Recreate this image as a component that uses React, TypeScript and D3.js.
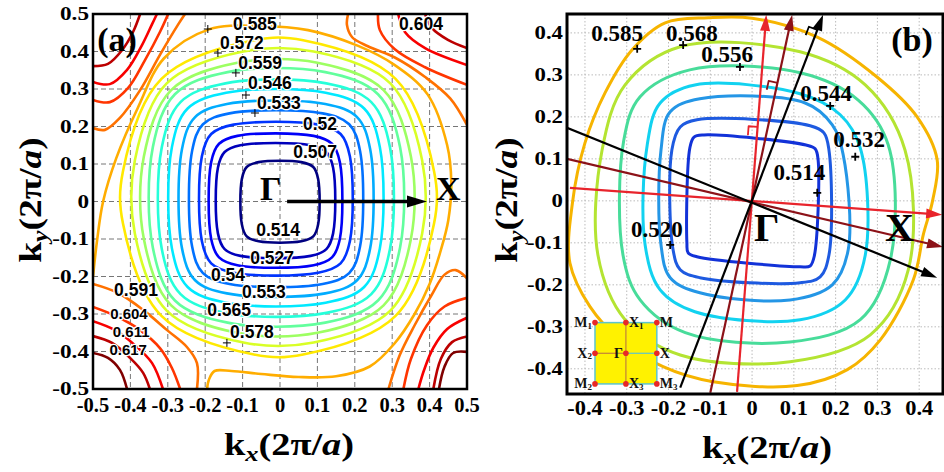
import React from 'react';
import * as d3 from 'd3';

type P = [number, number];

// ---------------- Panel (a) data ----------------
const levelsA = [0.507, 0.5135, 0.52, 0.5265, 0.533, 0.5395, 0.546, 0.5525, 0.559, 0.5655, 0.572, 0.5785, 0.585, 0.5915, 0.598, 0.6045, 0.611, 0.6175];

// closed contours (levels 0.507 ... 0.5785): anchor points [kx, ky]
const closedA: P[][] = [
  [[0.102, 0.06], [0.089, 0.092], [0.057, 0.105], [-0.057, 0.105], [-0.089, 0.092], [-0.102, 0.06], [-0.102, -0.061], [-0.089, -0.093], [-0.057, -0.106], [0.057, -0.106], [0.089, -0.093], [0.102, -0.061]],
  [[0.142, 0.09], [0.124, 0.132], [0.082, 0.15], [-0.106, 0.15], [-0.148, 0.132], [-0.166, 0.09], [-0.166, -0.085], [-0.148, -0.127], [-0.106, -0.145], [0.082, -0.145], [0.124, -0.127], [0.142, -0.085]],
  [[0.16, 0.105], [0.139, 0.154], [0.09, 0.175], [-0.114, 0.175], [-0.163, 0.154], [-0.184, 0.105], [-0.184, -0.1], [-0.163, -0.149], [-0.114, -0.17], [0.09, -0.17], [0.139, -0.149], [0.16, -0.1]],
  [[0.187, 0.12], [0.162, 0.18], [0.102, 0.205], [-0.124, 0.205], [-0.184, 0.18], [-0.209, 0.12], [-0.209, -0.105], [-0.184, -0.165], [-0.124, -0.19], [0.102, -0.19], [0.162, -0.165], [0.187, -0.105]],
  [[0.214, 0.135], [0.185, 0.206], [0.114, 0.235], [-0.135, 0.235], [-0.206, 0.206], [-0.235, 0.135], [-0.235, -0.12], [-0.206, -0.191], [-0.135, -0.22], [0.114, -0.22], [0.185, -0.191], [0.214, -0.12]],
  [[0.241, 0.14], [0.206, 0.225], [0.121, 0.26], [-0.142, 0.26], [-0.227, 0.225], [-0.262, 0.14], [-0.262, -0.125], [-0.227, -0.21], [-0.142, -0.245], [0.121, -0.245], [0.206, -0.21], [0.241, -0.125]],
  [[0.267, 0.145], [0.225, 0.248], [0.122, 0.29], [-0.144, 0.29], [-0.247, 0.248], [-0.289, 0.145], [-0.289, -0.125], [-0.247, -0.228], [-0.144, -0.27], [0.122, -0.27], [0.225, -0.228], [0.267, -0.125]],
  [[0.294, 0.145], [0.244, 0.265], [0.124, 0.315], [-0.146, 0.315], [-0.266, 0.265], [-0.316, 0.145], [-0.316, -0.127], [-0.266, -0.247], [-0.146, -0.297], [0.124, -0.297], [0.244, -0.247], [0.294, -0.127]],
  [[0.321, 0.145], [0.262, 0.286], [0.121, 0.345], [-0.14, 0.345], [-0.281, 0.286], [-0.34, 0.145], [-0.34, -0.123], [-0.281, -0.264], [-0.14, -0.323], [0.121, -0.323], [0.262, -0.264], [0.321, -0.123]],
  [[0.35, 0.12], [0.277, 0.297], [0.1, 0.37], [-0.114, 0.37], [-0.291, 0.297], [-0.364, 0.12], [-0.364, -0.1], [-0.291, -0.277], [-0.114, -0.35], [0.1, -0.35], [0.277, -0.277], [0.35, -0.1]],
  [[0.38, 0.11], [0.295, 0.315], [0.09, 0.4], [-0.098, 0.4], [-0.303, 0.315], [-0.388, 0.11], [-0.388, -0.086], [-0.303, -0.291], [-0.098, -0.376], [0.09, -0.376], [0.295, -0.291], [0.38, -0.086]],
  [[0.412, 0.08], [0.309, 0.327], [0.062, 0.43], [-0.07, 0.43], [-0.317, 0.327], [-0.42, 0.08], [-0.42, -0.058], [-0.317, -0.305], [-0.07, -0.408], [0.062, -0.408], [0.309, -0.305], [0.412, -0.058]],
];

// the 0.585 contour leaves the plot in the lower-left corner
const open585A: P[] = [
  [-0.5, -0.2], [-0.489, -0.103], [-0.473, 0], [-0.438, 0.115], [-0.38, 0.25], [-0.31, 0.382], [-0.19, 0.459],
  [-0.05, 0.468], [0.075, 0.457], [0.209, 0.415], [0.305, 0.365], [0.395, 0.285], [0.447, 0.15], [0.458, 0.05],
  [0.45, -0.05], [0.43, -0.13], [0.4, -0.22], [0.36, -0.3], [0.305, -0.38], [0.24, -0.44], [0.15, -0.466],
  [0.05, -0.468], [-0.05, -0.46], [-0.13, -0.452], [-0.175, -0.452], [-0.19, -0.475], [-0.195, -0.5],
];

const cornerArcsA: { level: number; pts: P[] }[] = [
  // upper left
  { level: 0.5915, pts: [[-0.5, 0.196], [-0.468, 0.191], [-0.428, 0.223], [-0.374, 0.297], [-0.321, 0.391], [-0.273, 0.471], [-0.254, 0.5]] },
  { level: 0.598, pts: [[-0.5, 0.271], [-0.455, 0.265], [-0.406, 0.303], [-0.361, 0.377], [-0.321, 0.452], [-0.299, 0.5]] },
  { level: 0.6045, pts: [[-0.5, 0.319], [-0.455, 0.313], [-0.409, 0.351], [-0.369, 0.417], [-0.342, 0.473], [-0.329, 0.5]] },
  { level: 0.611, pts: [[-0.5, 0.361], [-0.46, 0.367], [-0.422, 0.404], [-0.393, 0.452], [-0.374, 0.5]] },
  // upper right
  { level: 0.5915, pts: [[0.182, 0.5], [0.179, 0.471], [0.193, 0.438], [0.235, 0.414], [0.307, 0.384], [0.388, 0.332], [0.455, 0.275], [0.5, 0.204]] },
  { level: 0.598, pts: [[0.262, 0.5], [0.267, 0.457], [0.307, 0.406], [0.388, 0.358], [0.5, 0.311]] },
  { level: 0.6045, pts: [[0.316, 0.5], [0.334, 0.452], [0.388, 0.409], [0.5, 0.364]] },
  { level: 0.611, pts: [[0.388, 0.5], [0.406, 0.463], [0.449, 0.431], [0.5, 0.409]] },
  // lower right
  { level: 0.5915, pts: [[0.5, -0.205], [0.47, -0.183], [0.44, -0.195], [0.405, -0.25], [0.36, -0.33], [0.32, -0.41], [0.29, -0.5]] },
  { level: 0.598, pts: [[0.5, -0.257], [0.44, -0.28], [0.393, -0.33], [0.35, -0.42], [0.33, -0.5]] },
  { level: 0.6045, pts: [[0.5, -0.31], [0.447, -0.34], [0.41, -0.39], [0.385, -0.45], [0.37, -0.5]] },
  { level: 0.611, pts: [[0.5, -0.36], [0.46, -0.375], [0.43, -0.42], [0.41, -0.5]] },
  { level: 0.6175, pts: [[0.5, -0.401], [0.463, -0.404], [0.44, -0.44], [0.425, -0.5]] },
  // lower left
  { level: 0.5915, pts: [[-0.5, -0.22], [-0.433, -0.244], [-0.366, -0.289], [-0.302, -0.343], [-0.249, -0.388], [-0.222, -0.431], [-0.222, -0.5]] },
  { level: 0.598, pts: [[-0.5, -0.281], [-0.433, -0.308], [-0.374, -0.343], [-0.321, -0.391], [-0.289, -0.444], [-0.267, -0.5]] },
  { level: 0.6045, pts: [[-0.5, -0.319], [-0.441, -0.343], [-0.388, -0.383], [-0.342, -0.431], [-0.313, -0.5]] },
  { level: 0.611, pts: [[-0.5, -0.359], [-0.449, -0.377], [-0.401, -0.417], [-0.366, -0.457], [-0.348, -0.5]] },
  { level: 0.6175, pts: [[-0.5, -0.404], [-0.46, -0.417], [-0.428, -0.449], [-0.409, -0.5]] },
];

const labelTextA = ['0.585', '0.572', '0.559', '0.546', '0.533', '0.52', '0.507', '0.514', '0.527', '0.54', '0.553', '0.565', '0.578', '0.591', '0.604', '0.611', '0.617', '0.604'];
const labelPosA: P[] = [
  [-0.067, 0.473], [-0.102, 0.423], [-0.053, 0.369], [-0.027, 0.316], [-0.003, 0.263], [0.107, 0.207], [0.094, 0.132],
  [-0.005, -0.076], [-0.021, -0.151], [-0.139, -0.196], [-0.043, -0.241], [-0.136, -0.289], [-0.075, -0.348],
  [-0.385, -0.237], [-0.404, -0.298], [-0.398, -0.347], [-0.406, -0.395], [0.377, 0.473],
];
const plusA: P[] = [[-0.193, 0.46], [-0.166, 0.396], [-0.118, 0.343], [-0.091, 0.284], [-0.067, 0.236], [-0.142, -0.377]];
const ticksA = [-0.5, -0.4, -0.3, -0.2, -0.1, 0, 0.1, 0.2, 0.3, 0.4, 0.5];
const arrowA: P[] = [[0.019, 0], [0.393, 0]];

// ---------------- Panel (b) data ----------------
const levelsB = [0.514, 0.52, 0.532, 0.544, 0.556, 0.568, 0.585];
const colorsB = ['#1232d8', '#1e5ae0', '#2496e6', '#12d2f0', '#48dc9a', '#b4e432', '#f6b400'];
const contoursB: P[][] = [
  [[-0.149, 0.126], [-0.139, 0.152], [-0.115, 0.157], [0.129, 0.133], [0.151, 0.124], [0.158, 0.098], [0.149, -0.131], [0.139, -0.155], [0.115, -0.157], [-0.132, -0.133], [-0.153, -0.124], [-0.156, -0.1]],
  [[-0.192, 0.121], [-0.172, 0.176], [-0.132, 0.193], [0.139, 0.179], [0.172, 0.162], [0.184, 0.121], [0.184, -0.129], [0.163, -0.181], [0.115, -0.195], [-0.125, -0.183], [-0.172, -0.164], [-0.189, -0.117]],
  [[-0.218, 0.121], [-0.196, 0.212], [-0.125, 0.243], [0.127, 0.233], [0.192, 0.181], [0.218, 0.11], [0.23, -0.117], [0.192, -0.2], [0.091, -0.236], [-0.125, -0.219], [-0.196, -0.183], [-0.218, -0.105]],
  [[-0.251, 0.133], [-0.22, 0.233], [-0.137, 0.276], [0.115, 0.255], [0.211, 0.205], [0.259, 0.126], [0.271, -0.129], [0.223, -0.236], [0.115, -0.283], [-0.137, -0.264], [-0.22, -0.212], [-0.256, -0.105]],
  [[-0.307, 0.145], [-0.268, 0.248], [-0.149, 0.312], [0.115, 0.305], [0.254, 0.24], [0.326, 0.133], [0.331, -0.14], [0.259, -0.283], [0.091, -0.336], [-0.16, -0.314], [-0.268, -0.236], [-0.309, -0.129]],
  [[-0.359, 0.121], [-0.304, 0.276], [-0.172, 0.367], [0.115, 0.355], [0.271, 0.276], [0.366, 0.121], [0.374, -0.164], [0.283, -0.319], [0.091, -0.383], [-0.172, -0.367], [-0.304, -0.283], [-0.369, -0.129]],
  [[-0.105, 0.436], [0.0, 0.435], [0.156, 0.39], [0.299, 0.295], [0.395, 0.2], [0.443, 0.098], [0.432, 0.0], [0.41, -0.08], [0.386, -0.188], [0.307, -0.331], [0.228, -0.402], [0.108, -0.44], [-0.093, -0.431], [-0.213, -0.395], [-0.316, -0.331], [-0.388, -0.252], [-0.436, -0.148], [-0.43, -0.005], [-0.4, 0.138], [-0.352, 0.257], [-0.287, 0.36], [-0.208, 0.424]],
];
const labelTextB = ['0.585', '0.568', '0.556', '0.544', '0.532', '0.514', '0.520'];
const labelPosB: P[] = [[-0.323, 0.398], [-0.144, 0.398], [-0.06, 0.348], [0.177, 0.255], [0.256, 0.145], [0.113, 0.067], [-0.228, -0.069]];
const plusB: P[] = [[-0.275, 0.362], [-0.165, 0.371], [-0.029, 0.319], [0.187, 0.226], [0.247, 0.105], [0.156, 0.019], [-0.196, -0.105]];
const ticksB = [-0.4, -0.3, -0.2, -0.1, 0, 0.1, 0.2, 0.3, 0.4];
const dirLinesB: { color: string; from: P; to: P; mark: number | null }[] = [
  { color: '#e8242c', from: [-0.436, 0.031], to: [0.455, -0.033], mark: null },
  { color: '#e8242c', from: [-0.036, -0.455], to: [0.034, 0.443], mark: 0.176 },
  { color: '#8c1218', from: [-0.443, 0.1], to: [0.457, -0.11], mark: null },
  { color: '#8c1218', from: [-0.1, -0.457], to: [0.096, 0.443], mark: 0.281 },
  { color: '#000000', from: [-0.443, 0.174], to: [0.443, -0.183], mark: null },
  { color: '#000000', from: [-0.172, -0.445], to: [0.17, 0.443], mark: 0.407 },
];
const insetBox = { x0: -0.376, x1: -0.228, y0: -0.436, y1: -0.29 };
const insetNames = ['M', 'X', 'M', 'X', 'Γ', 'X', 'M', 'X', 'M'];
const insetSubs = ['1', '1', '', '2', '', '', '2', '3', '3'];

// ---------------- helpers ----------------
function jet(t: number) {
  const c = (v: number) => Math.max(0, Math.min(1, v));
  const r = c(Math.min(4 * t - 1.5, -4 * t + 4.5));
  const g = c(Math.min(4 * t - 0.5, -4 * t + 3.5));
  const b = c(Math.min(4 * t + 0.5, -4 * t + 2.5));
  return d3.rgb(r * 255, g * 255, b * 255).formatHex();
}
const lvMin = levelsA[0];
const lvMax = levelsA[levelsA.length - 1];
const colorA = (v: number) => jet((v - lvMin) / (lvMax - lvMin));

const serif = "'Liberation Serif','Times New Roman',Times,serif";
const sans = "'Liberation Sans',Arial,Helvetica,sans-serif";
const fmt = (v: number) => (Math.abs(v) < 1e-9 ? '0' : v.toFixed(1));

function arrowHead(x1: number, y1: number, x2: number, y2: number, len = 17, hw = 5.5) {
  const a = Math.atan2(y2 - y1, x2 - x1);
  const bx = x2 - len * Math.cos(a), by = y2 - len * Math.sin(a);
  const px = -Math.sin(a) * hw, py = Math.cos(a) * hw;
  return `M${x2},${y2}L${bx + px},${by + py}L${bx - px},${by - py}Z`;
}

export default function App() {
  const Ax = d3.scaleLinear().domain([-0.5, 0.5]).range([93, 467]);
  const Ay = d3.scaleLinear().domain([-0.5, 0.5]).range([389, 14]);
  const Bx = d3.scaleLinear().domain([-0.443, 0.457]).range([567, 943]);
  const By = d3.scaleLinear().domain([-0.46, 0.445]).range([394, 14]);

  const closedLineA = d3.line<P>().x(d => Ax(d[0])).y(d => Ay(d[1])).curve(d3.curveCatmullRomClosed.alpha(0.5));
  const openLineA = d3.line<P>().x(d => Ax(d[0])).y(d => Ay(d[1])).curve(d3.curveCatmullRom.alpha(0.5));
  const closedLineB = d3.line<P>().x(d => Bx(d[0])).y(d => By(d[1])).curve(d3.curveCatmullRomClosed.alpha(0.5));

  const [ax0, ax1] = Ax.range();
  const [ay0, ay1] = [Ay.range()[1], Ay.range()[0]];
  const [bx0, bx1] = Bx.range();
  const [by0, by1] = [By.range()[1], By.range()[0]];

  const plusPath = (x: number, y: number) => `M${x - 4},${y}H${x + 4}M${x},${y - 4}V${y + 4}`;

  // inset geometry
  const ix0 = Bx(insetBox.x0), ix1 = Bx(insetBox.x1), iy0 = By(insetBox.y1), iy1 = By(insetBox.y0);
  const imx = (ix0 + ix1) / 2, imy = (iy0 + iy1) / 2;
  const insetPts: P[] = [[ix0, iy0], [imx, iy0], [ix1, iy0], [ix0, imy], [imx, imy], [ix1, imy], [ix0, iy1], [imx, iy1], [ix1, iy1]];

  return (
    <svg width={944} height={472} style={{ position: 'absolute', left: 0, top: 0, background: '#fff' }} xmlns="http://www.w3.org/2000/svg">
      <defs>
        <clipPath id="clipA"><rect x={ax0} y={ay0} width={ax1 - ax0} height={ay1 - ay0} /></clipPath>
        <clipPath id="clipB"><rect x={bx0} y={by0} width={bx1 - bx0} height={by1 - by0} /></clipPath>
      </defs>
      <rect x={0} y={0} width={944} height={472} fill="#fff" />

      {/* ================= Panel (a) ================= */}
      <g>
        {ticksA.slice(1, -1).map(t => (
          <g key={'ga' + t}>
            <line x1={Ax(t)} x2={Ax(t)} y1={ay0} y2={ay1} stroke="#666" strokeWidth={0.9} strokeDasharray="5,3" />
            <line x1={ax0} x2={ax1} y1={Ay(t)} y2={Ay(t)} stroke="#666" strokeWidth={0.9} strokeDasharray="5,3" />
          </g>
        ))}
        <g clipPath="url(#clipA)" fill="none" strokeWidth={2.6} strokeLinejoin="round">
          {closedA.map((pts, i) => (
            <path key={'ca' + i} d={closedLineA(pts) || ''} stroke={colorA(levelsA[i])} />
          ))}
          <path d={openLineA(open585A) || ''} stroke={colorA(0.585)} />
          {cornerArcsA.map((c, i) => (
            <path key={'arc' + i} d={openLineA(c.pts) || ''} stroke={colorA(c.level)} />
          ))}
        </g>
        {plusA.map((p, i) => (
          <path key={'pa' + i} d={plusPath(Ax(p[0]), Ay(p[1]))} stroke="#000" strokeWidth={1} />
        ))}
        {labelTextA.map((t, i) => (
          <text key={'la' + i} x={Ax(labelPosA[i][0])} y={Ay(labelPosA[i][1])} textAnchor="middle" dominantBaseline="central"
            fontFamily={sans} fontWeight="bold" fontSize={i >= 14 && i <= 16 ? 15 : 17.5} fill="#000"
            stroke="#fff" strokeWidth={2.5} strokeLinejoin="round" style={{ paintOrder: 'stroke' }}>{t}</text>
        ))}
        {/* Γ -> X arrow */}
        <line x1={Ax(arrowA[0][0])} y1={Ay(arrowA[0][1])} x2={Ax(arrowA[1][0]) - 10} y2={Ay(arrowA[1][1])} stroke="#000" strokeWidth={3.5} />
        <path d={arrowHead(Ax(arrowA[0][0]), Ay(arrowA[0][1]), Ax(arrowA[1][0]), Ay(arrowA[1][1]), 20, 6)} fill="#000" />
        <text x={260} y={200} fontFamily={serif} fontWeight="bold" fontSize={34} fill="#000">Γ</text>
        <text x={436} y={200} fontFamily={serif} fontWeight="bold" fontSize={34} fill="#000">X</text>
        <text x={117} y={51} textAnchor="middle" fontFamily={serif} fontWeight="bold" fontSize={34} fill="#000">(a)</text>
        <rect x={ax0} y={ay0} width={ax1 - ax0} height={ay1 - ay0} fill="none" stroke="#000" strokeWidth={2.5} />
        {ticksA.map(t => (
          <text key={'yta' + t} transform={`translate(89,${Ay(t)}) scale(1.22,1)`} textAnchor="end" dominantBaseline="central"
            fontFamily={serif} fontWeight="bold" fontSize={19} fill="#000">{fmt(t)}</text>
        ))}
        {ticksA.map(t => (
          <text key={'xta' + t} x={Ax(t)} y={412} textAnchor="middle" fontFamily={serif} fontWeight="bold" fontSize={20.5} fill="#000">{fmt(t)}</text>
        ))}
        <text transform="translate(289,455) scale(1.2,1)" textAnchor="middle" fontFamily={serif} fontWeight="bold" fontSize={32} fill="#000">
          k<tspan fontSize={22} fontStyle="italic" dy={6}>x</tspan><tspan dy={-6}>(2π/</tspan><tspan fontStyle="italic">a</tspan>)
        </text>
        <text transform="translate(41,200) rotate(-90) scale(1.17,1)" textAnchor="middle" fontFamily={serif} fontWeight="bold" fontSize={32} fill="#000">
          k<tspan fontSize={22} fontStyle="italic" dy={6}>y</tspan><tspan dy={-6}>(2π/</tspan><tspan fontStyle="italic">a</tspan>)
        </text>
      </g>

      {/* ================= Panel (b) ================= */}
      <g>
        {ticksB.map(t => (
          <g key={'gb' + t}>
            <line x1={Bx(t)} x2={Bx(t)} y1={by0} y2={by1} stroke="#bbb" strokeWidth={1} strokeDasharray="1.5,2" />
            <line x1={bx0} x2={bx1} y1={By(t)} y2={By(t)} stroke="#bbb" strokeWidth={1} strokeDasharray="1.5,2" />
          </g>
        ))}
        <g clipPath="url(#clipB)" fill="none" strokeWidth={3} strokeLinejoin="round">
          {contoursB.map((pts, i) => (
            <path key={'cb' + i} d={closedLineB(pts) || ''} stroke={colorsB[i]} />
          ))}
          {dirLinesB.map((l, i) => {
            const x1 = Bx(l.from[0]), y1 = By(l.from[1]), x2 = Bx(l.to[0]), y2 = By(l.to[1]);
            const len = Math.hypot(x2 - x1, y2 - y1);
            const ux = (x2 - x1) / len, uy = (y2 - y1) / len;
            let mark = null;
            if (l.mark !== null) {
              const yp = By(l.mark);
              const t = (yp - y1) / (y2 - y1);
              const xp = x1 + t * (x2 - x1);
              const s = 9;
              const nx = uy, ny = -ux; // left-hand perpendicular
              mark = <path d={`M${xp},${yp}L${xp + s * nx},${yp + s * ny}L${xp + s * nx - s * ux},${yp + s * ny - s * uy}`} stroke={l.color} strokeWidth={1.8} fill="none" />;
            }
            return (
              <g key={'dl' + i}>
                <line x1={x1} y1={y1} x2={x2 - ux * 12} y2={y2 - uy * 12} stroke={l.color} strokeWidth={2.2} />
                <path d={arrowHead(x1, y1, x2, y2, 16, 5)} fill={l.color} stroke="none" />
                {mark}
              </g>
            );
          })}
        </g>
        {plusB.map((p, i) => (
          <path key={'pb' + i} d={plusPath(Bx(p[0]), By(p[1]))} stroke="#000" strokeWidth={1.8} />
        ))}
        {labelTextB.map((t, i) => (
          <text key={'lb' + i} x={Bx(labelPosB[i][0])} y={By(labelPosB[i][1])} textAnchor="middle" dominantBaseline="central"
            fontFamily={serif} fontWeight="bold" fontSize={23} fill="#000">{t}</text>
        ))}
        <text x={754} y={241} fontFamily={serif} fontWeight="bold" fontSize={40} fill="#000">Γ</text>
        <text x={885} y={241} fontFamily={serif} fontWeight="bold" fontSize={40} fill="#000">X</text>
        <text x={912} y={51} textAnchor="middle" fontFamily={serif} fontWeight="bold" fontSize={34} fill="#000">(b)</text>

        {/* inset Brillouin zone */}
        <rect x={ix0} y={iy0} width={ix1 - ix0} height={iy1 - iy0} fill="#fff200" stroke="#5cc4cc" strokeWidth={1.5} />
        <line x1={imx} x2={imx} y1={iy0} y2={iy1} stroke="#c0803a" strokeWidth={1.2} />
        <line x1={ix0} x2={imx} y1={imy} y2={imy} stroke="#c0803a" strokeWidth={1.2} />
        <line x1={imx} x2={ix1} y1={imy} y2={imy} stroke="#5cc4cc" strokeWidth={1.2} />
        {insetPts.map((p, i) => (
          <circle key={'ip' + i} cx={p[0]} cy={p[1]} r={2.8} fill="#e82828" />
        ))}
        {insetPts.map((p, i) => {
          const col = i % 3;
          const leftSide = col === 0 || i === 4;
          const x = leftSide ? p[0] - 3 : p[0] + 3;
          return (
            <text key={'it' + i} x={x} y={p[1]} textAnchor={leftSide ? 'end' : 'start'} dominantBaseline="central"
              fontFamily={serif} fontWeight="bold" fontSize={14} fill="#111">
              {insetNames[i]}{insetSubs[i] ? <tspan fontSize={9} dy={3}>{insetSubs[i]}</tspan> : null}
            </text>
          );
        })}

        <rect x={bx0} y={by0} width={bx1 - bx0} height={by1 - by0} fill="none" stroke="#000" strokeWidth={3} />
        {ticksB.map(t => (
          <text key={'ytb' + t} transform={`translate(563,${By(t)}) scale(1.2,1)`} textAnchor="end" dominantBaseline="central"
            fontFamily={serif} fontWeight="bold" fontSize={19} fill="#000">{fmt(t)}</text>
        ))}
        {ticksB.map(t => (
          <text key={'xtb' + t} transform={`translate(${Bx(t)},415) scale(1.12,1)`} textAnchor="middle"
            fontFamily={serif} fontWeight="bold" fontSize={20} fill="#000">{fmt(t)}</text>
        ))}
        <text transform="translate(767,458) scale(1.2,1)" textAnchor="middle" fontFamily={serif} fontWeight="bold" fontSize={32} fill="#000">
          k<tspan fontSize={22} fontStyle="italic" dy={6}>x</tspan><tspan dy={-6}>(2π/</tspan><tspan fontStyle="italic">a</tspan>)
        </text>
        <text transform="translate(517,200) rotate(-90) scale(1.17,1)" textAnchor="middle" fontFamily={serif} fontWeight="bold" fontSize={32} fill="#000">
          k<tspan fontSize={22} fontStyle="italic" dy={6}>y</tspan><tspan dy={-6}>(2π/</tspan><tspan fontStyle="italic">a</tspan>)
        </text>
      </g>
    </svg>
  );
}
